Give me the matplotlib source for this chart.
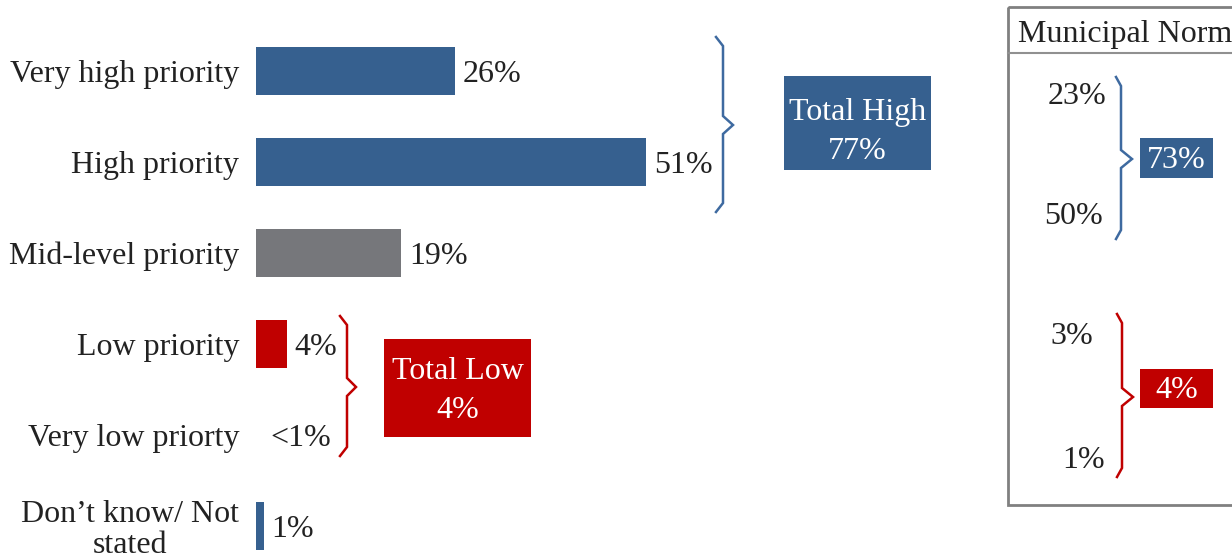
import matplotlib
matplotlib.use('Agg')
import numpy as np
import matplotlib.pyplot as plt
from matplotlib.patches import Rectangle

plt.rcParams['font.family'] = ['Liberation Serif', 'DejaVu Serif']

# data
categories = ['Very high priority', 'High priority', 'Mid-level priority',
              'Low priority', 'Very low priorty', 'Don\u2019t know/ Not\nstated']
values = [26, 51, 19, 4, 0, 1]
value_labels = ['26%', '51%', '19%', '4%', '<1%', '1%']
total_high = 'Total High\n77%'
total_low = 'Total Low\n4%'
norm_title = 'Municipal Norm'
norm_high = ['23%', '50%']
norm_high_total = '73%'
norm_low = ['3%', '1%']
norm_low_total = '4%'

BLUE = '#36608F'
GREY = '#76777B'
RED = '#C00000'
bar_colors = [BLUE, BLUE, GREY, RED, RED, BLUE]

W, H = 1232, 558
FS = 23
TXT = '#222222'
fig = plt.figure(figsize=(W / 100, H / 100), dpi=100)

# bars
x0 = 256
scale = 7.65   # px per percent
ax = fig.add_axes([x0 / W, 0, 1 - x0 / W, 1])
ax.set_xlim(0, (W - x0) / scale)
ax.set_ylim((H - 71) / 91, -71 / 91)
y = np.arange(len(categories))
ax.barh(y, values, height=0.53, color=bar_colors)
for i, (v, lab) in enumerate(zip(values, value_labels)):
    off = 14 if v == 0 else 8
    ax.annotate(lab, (v, i), xytext=(off, 0), textcoords='offset pixels',
                ha='left', va='center_baseline', fontsize=FS, color=TXT)
ax.set_yticks(y, categories)
ax.set_xticks([])
ax.tick_params(length=0, pad=12, labelsize=FS, labelcolor=TXT)
for lab in ax.get_yticklabels():
    lab.set_multialignment('center')
    lab.set_linespacing(1.05)
for s in ax.spines.values():
    s.set_visible(False)

# overlay in pixel coordinates for braces, boxes and the norm panel
ov = fig.add_axes([0, 0, 1, 1])
ov.set_xlim(0, W)
ov.set_ylim(H, 0)
ov.set_axis_off()


def brace(x, y0, y1, ym, color, hook=7, tip=10):
    xs = [x - hook, x, x, x + tip, x, x, x - hook]
    ys = [y0, y0 + 9, ym - 9, ym, ym + 9, y1 - 9, y1]
    ov.plot(xs, ys, color=color, lw=1.8, solid_joinstyle='miter')


def box(x, y, w, h, color, text, dy=2):
    ov.add_patch(Rectangle((x, y), w, h, color=color, lw=0))
    ov.text(x + w / 2, y + h / 2 + dy, text, ha='center', va='center',
            color='white', fontsize=FS, linespacing=1.45)


brace(723, 37, 212, 125, '#3E6AA0')
box(784, 76, 147, 94, BLUE, total_high, dy=9)
brace(347, 316, 456, 387, RED, tip=9)
box(384, 339, 147, 98, RED, total_low, dy=3)

# municipal norm panel
ov.add_patch(Rectangle((1008, 7), 240, 498, fill=False, ec='#808080', lw=2))
ov.plot([1008, W], [53, 53], color='#909090', lw=1.5)
ov.text(1018, 31, norm_title, ha='left', va='center_baseline', fontsize=FS, color=TXT)
for lab, xr, yc in zip(norm_high, [1106, 1103], [93, 213]):
    ov.text(xr, yc, lab, ha='right', va='center_baseline', fontsize=FS, color=TXT)
for lab, xr, yc in zip(norm_low, [1093, 1105], [333, 457]):
    ov.text(xr, yc, lab, ha='right', va='center_baseline', fontsize=FS, color=TXT)
brace(1121, 77, 239, 159, '#3E6AA0', hook=5, tip=11)
box(1140, 138, 73, 40, BLUE, norm_high_total)
brace(1122, 314, 477, 397, RED, hook=5, tip=11)
box(1140, 369, 73, 39, RED, norm_low_total)

fig.savefig('out.png', dpi=100)
